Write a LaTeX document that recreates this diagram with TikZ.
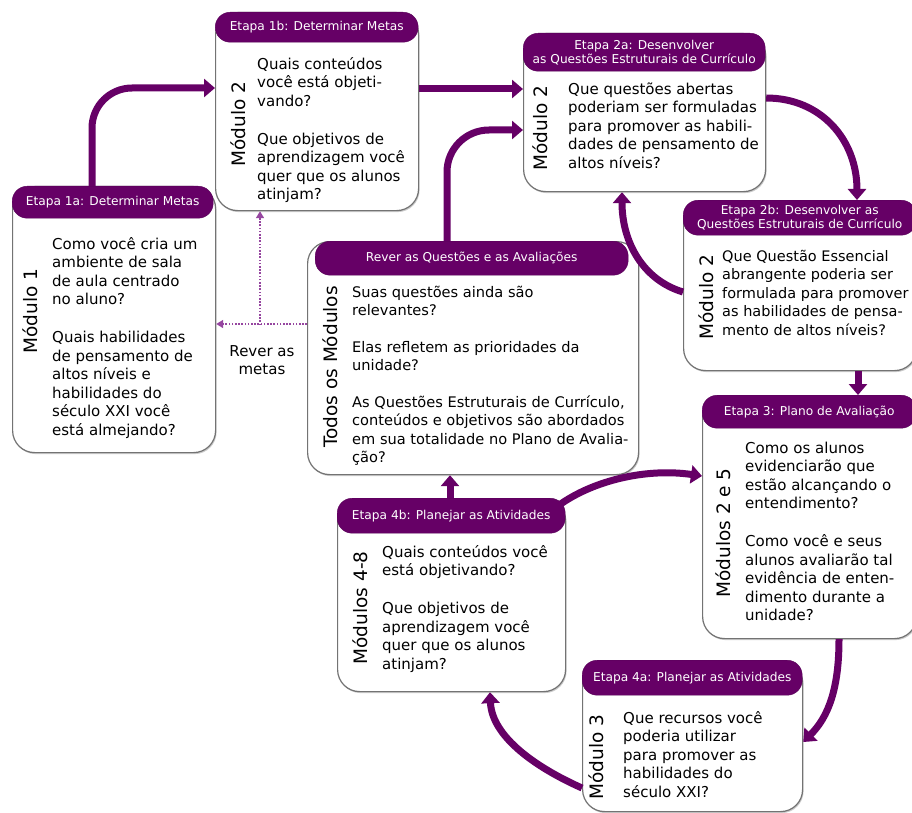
\documentclass[tikz,border=0pt]{standalone}
\usepackage{fontspec}
\setmainfont{DejaVu Sans}
\usetikzlibrary{arrows.meta,calc,shadows}
\definecolor{ubdpurple}{RGB}{102,0,102}
\definecolor{boxgray}{RGB}{115,115,115}
\definecolor{dotpurple}{RGB}{150,70,160}
\begin{document}
\begin{tikzpicture}[x=1pt,y=-1pt,
  bodybox/.style={draw=boxgray, line width=1.2pt, fill=white, rounded corners=22pt,
    anchor=north west, inner sep=0pt,
    drop shadow={shadow xshift=1pt,shadow yshift=-1.5pt,fill=black!40,opacity=0.5}},
  hdr/.style={fill=ubdpurple, draw=ubdpurple!85!black, rounded corners=15pt, anchor=north west,
    inner sep=0pt, text=white, font=\fontsize{12.2}{14}\selectfont, align=center},
  modlabel/.style={rotate=90, anchor=base, inner sep=0pt, font=\fontsize{18.5}{22}\selectfont},
  bodytext/.style={anchor=north west, inner sep=0pt, align=left, font=\fontsize{15}{18.5}\selectfont},
  conn/.style={draw=ubdpurple, line width=7pt, -{Triangle[length=11pt,width=18pt]}},
  dotconn/.style={draw=dotpurple, line width=1.6pt, dash pattern=on 1.6pt off 1.6pt,
    -{Triangle[length=7pt,width=8pt]}},
]
\fill[white] (0,0) rectangle (912,813);
\useasboundingbox (0,0) rectangle (912,813);

% ---------- Etapa 1a ----------
\node[bodybox, minimum width=203pt, minimum height=266pt] (b1a) at (12,186) {};
\node[hdr, minimum width=201pt, minimum height=32pt] (h1a) at (12,186) {Etapa 1a: Determinar Metas};
\node[modlabel] (m1a) at (37,311) {Módulo 1};
\node[bodytext] (t1a) at (52,236) {\rule{0pt}{13pt}Como você cria um\\ ambiente de sala\\ de aula centrado\\ no aluno?\\[19.5pt]
  Quais habilidades\\ de pensamento de\\ altos níveis e\\ habilidades do\\ século XXI você\\ está almejando?};

% ---------- Etapa 1b ----------
\node[bodybox, minimum width=203pt, minimum height=198pt] (b1b) at (215,12) {};
\node[hdr, minimum width=203pt, minimum height=30pt] (h1b) at (215,12) {Etapa 1b: Determinar Metas};
\node[modlabel] (m1b) at (245,124) {Módulo 2};
\node[bodytext] (t1b) at (257,56) {\rule{0pt}{13pt}Quais conteúdos\\ você está objeti-\\ vando?\\[19.5pt]
  Que objetivos de\\ aprendizagem você\\ quer que os alunos\\ atinjam?};

% ---------- Etapa 2a ----------
\node[bodybox, minimum width=242pt, minimum height=158pt] (b2a) at (523,33) {};
\node[hdr, minimum width=242pt, minimum height=38pt] (h2a) at (523,33) {Etapa 2a: Desenvolver\\as Questões Estruturais de Currículo};
\node[modlabel] (m2a) at (547,128) {Módulo 2};
\node[bodytext] (t2a) at (568,81) {\rule{0pt}{13pt}Que questões abertas\\ poderiam ser formuladas\\ para promover as habili-\\ dades de pensamento de\\ altos níveis?};

% ---------- Etapa 2b ----------
\node[bodybox, minimum width=233pt, minimum height=170pt] (b2b) at (683,200) {};
\node[hdr, minimum width=233pt, minimum height=35pt] (h2b) at (683,200) {Etapa 2b: Desenvolver as\\Questões Estruturais de Currículo};
\node[modlabel] (m2b) at (713,297) {Módulo 2};
\node[bodytext, font=\fontsize{14.5}{18.5}\selectfont] (t2b) at (722,248) {\rule{0pt}{13pt}Que Questão Essencial\\ abrangente poderia ser\\ formulada para promover\\ as habilidades de pensa-\\ mento de altos níveis?};

% ---------- Etapa 3 ----------
\node[bodybox, minimum width=214pt, minimum height=243pt] (b3) at (702,395) {};
\node[hdr, minimum width=214pt, minimum height=33pt] (h3) at (702,395) {Etapa 3: Plano de Avaliação};
\node[modlabel] (m3) at (730,533) {Módulos 2 e 5};
\node[bodytext] (t3) at (745,440) {\rule{0pt}{13pt}Como os alunos\\ evidenciarão que\\ estão alcançando o\\ entendimento?\\[19.5pt]
  Como você e seus\\ alunos avaliarão tal\\ evidência de enten-\\ dimento durante a\\ unidade?};

% ---------- Rever ----------
\node[bodybox, minimum width=331pt, minimum height=233pt] (bRev) at (307,241) {};
\node[hdr, minimum width=313pt, minimum height=34pt] (hRev) at (315,241) {Rever as Questões e as Avaliações};
\node[modlabel] (mRev) at (337,367) {Todos os Módulos};
\node[bodytext, font=\fontsize{14.6}{18.5}\selectfont] (tRev) at (352,284) {\rule{0pt}{13pt}Suas questões ainda são\\ relevantes?\\[18pt]
  Elas refletem as prioridades da\\ unidade?\\[18pt]
  As Questões Estruturais de Currículo,\\ conteúdos e objetivos são abordados\\ em sua totalidade no Plano de Avalia-\\ ção?};

% ---------- Etapa 4b ----------
\node[bodybox, minimum width=228pt, minimum height=193pt] (b4b) at (337,498) {};
\node[hdr, minimum width=228pt, minimum height=35pt] (h4b) at (337,498) {Etapa 4b: Planejar as Atividades};
\node[modlabel] (m4b) at (367,608) {Módulos 4-8};
\node[bodytext] (t4b) at (382,544) {\rule{0pt}{13pt}Quais conteúdos você\\ está objetivando?\\[19.5pt]
  Que objetivos de\\ aprendizagem você\\ quer que os alunos\\ atinjam?};

% ---------- Etapa 4a ----------
\node[bodybox, minimum width=220pt, minimum height=151pt] (b4a) at (582,660) {};
\node[hdr, minimum width=220pt, minimum height=35pt] (h4a) at (582,660) {Etapa 4a: Planejar as Atividades};
\node[modlabel] (m4a) at (603,757) {Módulo 3};
\node[bodytext] (t4a) at (623,710) {\rule{0pt}{13pt}Que recursos você\\ poderia utilizar\\ para promover as\\ habilidades do\\ século XXI?};

% ---------- label ----------
\node[align=center, inner sep=0pt, font=\fontsize{15}{18.5}\selectfont] (lbl) at (262,360) {Rever as\\ metas};

% ---------- connectors ----------
\coordinate (a0) at ($(b1a.north west)+(80,0)$);
\coordinate (a1) at ($(b1b.north west)+(0,76)$);
\draw[conn, rounded corners=40pt] (a0) |- (a1);

\draw[conn] ($(b1b.north east)+(0,77)$) -- ($(b2a.north west)+(0,56)$);

\coordinate (c0) at ($(b2a.north east)+(0,65)$);
\coordinate (c1) at ($(b2b.north west)+(174,0)$);
\draw[conn] (c0) .. controls ($(c0)+(55,0)$) and ($(c1)+(0,-60)$) .. (c1);

\coordinate (d0) at ($(b2b.north west)+(0,92)$);
\coordinate (d1) at ($(b2a.south west)+(99,0)$);
\draw[conn] (d0) .. controls ($(d0)+(-40,-12)$) and ($(d1)+(0,50)$) .. (d1);

\draw[conn] ($(b2b.south west)+(175,0)$) -- ($(b3.north west)+(156,0)$);

\coordinate (f0) at ($(b3.south west)+(137,0)$);
\coordinate (f1) at ($(b4a.north east)+(0,82)$);
\draw[conn] (f0) .. controls ($(f0)+(0,50)$) and ($(f1)+(25,-25)$) .. (f1);

\coordinate (g0) at ($(b4a.north west)+(0,128)$);
\coordinate (g1) at ($(b4b.south west)+(153,0)$);
\draw[conn] (g0) .. controls ($(g0)+(-45,-20)$) and ($(g1)+(2,45)$) .. (g1);

\draw[conn] ($(b4b.north west)+(113,0)$) -- ($(bRev.south west)+(143,0)$);

\coordinate (i0) at ($(b4b.north east)+(-7,7)$);
\coordinate (i1) at ($(b3.north west)+(0,81)$);
\draw[conn] (i0) .. controls ($(i0)+(35,-25)$) and ($(i1)+(-55,-8)$) .. (i1);

\coordinate (j0) at ($(hRev.north west)+(132,0)$);
\coordinate (j1) at ($(b2a.north west)+(0,97)$);
\draw[conn, rounded corners=42pt] (j0) |- (j1);

% dotted "Rever as metas"
\coordinate (rv) at ($(b1b.south west)+(45,114)$);
\draw[dotconn] ($(bRev.north west)+(0,83)$) -- ($(b1a.north east)+(0,138)$);
\draw[dotconn] (rv) -- ($(b1b.south west)+(45,0)$);
\end{tikzpicture}
\end{document}
